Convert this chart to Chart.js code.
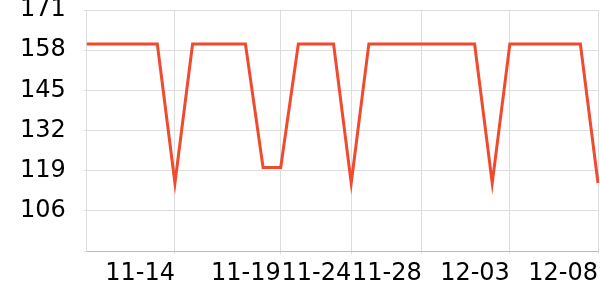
<!doctype html>
<html lang="en">
<head>
<meta charset="UTF-8" />
<title>Line chart</title>
<style>
  html, body { margin: 0; padding: 0; background: #fff; }
  #wrap { width: 600px; height: 300px; }
</style>
</head>
<body>
<div id="wrap"><canvas id="canvas" width="600" height="300"></canvas></div>
<script src="https://cdn.jsdelivr.net/npm/chart.js"></script>
<script>
// categories (one per point)
const dates = ['11-09','11-10','11-11','11-12','11-13','11-14','11-15','11-16','11-17','11-17',
               '11-18','11-19','11-21','11-22','11-23','11-24','11-25','11-26','11-27','11-28',
               '11-29','11-30','12-01','12-02','12-03','12-04','12-05','12-06','12-07','12-08']
// labelled ticks on the x axis (by index)
const shownTicks = [5, 11, 15, 19, 24, 29]
const values = [160,160,160,160,160,115,160,160,160,160,
                120,120,160,160,160,115,160,160,160,160,
                160,160,160,115,160,160,160,160,160,115]
const yMin = 93, yMax = 171, yStep = 13

const font = { family: 'DejaVu Sans', size: 24, lineHeight: 1 }

new Chart(document.getElementById('canvas'), {
  type: 'line',
  data: {
    labels: dates,
    datasets: [{
      data: values,
      borderColor: '#f04b2e',
      borderWidth: 3,
      pointRadius: 0,
      tension: 0,
      fill: false
    }]
  },
  options: {
    responsive: false,
    animation: false,
    layout: { padding: { top: 0, right: 2, bottom: 6, left: 2 } },
    plugins: { legend: { display: false }, tooltip: { enabled: false } },
    scales: {
      x: {
        afterBuildTicks: s => { s.ticks = s.ticks.filter(t => shownTicks.includes(t.value)) },
        afterFit: s => { s.paddingRight = 0 },
        ticks: { autoSkip: false, maxRotation: 0, align: 'end', color: '#000', font: font, padding: 8 },
        grid: { color: '#dddddd', tickLength: 3 },
        border: { color: '#bbbbbb' }
      },
      y: {
        min: yMin, max: yMax,
        afterFit: s => { s.paddingTop = 10; s.paddingBottom = 0 },
        ticks: {
          stepSize: yStep, color: '#000', font: font, padding: 18,
          callback: v => v === yMin ? '' : v
        },
        grid: { color: '#dddddd', tickLength: 3 },
        border: { color: '#dddddd' }
      }
    }
  }
})
</script>
</body>
</html>
